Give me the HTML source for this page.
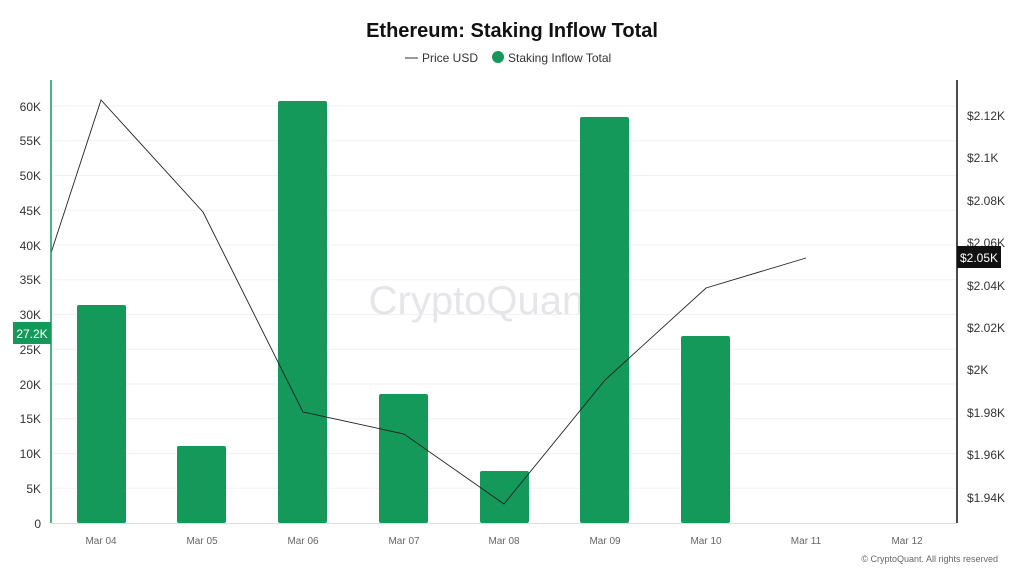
<!DOCTYPE html>
<html><head><meta charset="utf-8"><style>
body{margin:0;background:#fff;font-family:"Liberation Sans","DejaVu Sans",sans-serif;}
</style></head><body>
<svg width="1024" height="576" xmlns="http://www.w3.org/2000/svg" font-family="Liberation Sans, DejaVu Sans, sans-serif">
<rect width="1024" height="576" fill="#fff"/>
<text x="512" y="37" text-anchor="middle" font-size="20" font-weight="bold" fill="#111">Ethereum: Staking Inflow Total</text>
<line x1="405" y1="58" x2="418" y2="58" stroke="#333" stroke-width="1"/>
<text x="422" y="62" font-size="12" fill="#333">Price USD</text>
<circle cx="498" cy="57" r="6" fill="#14995a"/>
<text x="508" y="62" font-size="12" fill="#333">Staking Inflow Total</text>
<g stroke="#f2f2f2" stroke-width="1">
<line x1="51" x2="957" y1="488.2" y2="488.2"/><line x1="51" x2="957" y1="453.5" y2="453.5"/>
<line x1="51" x2="957" y1="418.7" y2="418.7"/><line x1="51" x2="957" y1="384" y2="384"/>
<line x1="51" x2="957" y1="349.2" y2="349.2"/><line x1="51" x2="957" y1="314.5" y2="314.5"/>
<line x1="51" x2="957" y1="279.7" y2="279.7"/><line x1="51" x2="957" y1="245" y2="245"/>
<line x1="51" x2="957" y1="210.2" y2="210.2"/><line x1="51" x2="957" y1="175.5" y2="175.5"/>
<line x1="51" x2="957" y1="140.7" y2="140.7"/><line x1="51" x2="957" y1="106" y2="106"/>
</g>
<line x1="51" x2="957" y1="523.5" y2="523.5" stroke="#ddd"/>
<text x="482" y="314" text-anchor="middle" font-size="40" fill="#e6e6ea">CryptoQuant</text>
<g fill="#14995a">
<rect x="77" y="305" width="49" height="218" rx="2"/>
<rect x="177" y="446" width="49" height="77" rx="2"/>
<rect x="278" y="101" width="49" height="422" rx="2"/>
<rect x="379" y="394" width="49" height="129" rx="2"/>
<rect x="480" y="471" width="49" height="52" rx="2"/>
<rect x="580" y="117" width="49" height="406" rx="2"/>
<rect x="681" y="336" width="49" height="187" rx="2"/>
</g>
<polyline fill="none" stroke="#222" stroke-width="0.9" points="51,253 101,100 203,212 303,412 404,434 504,504 605,380 706,288 806,258"/>
<line x1="51" y1="80" x2="51" y2="523" stroke="#14995a" stroke-width="1.5"/>
<line x1="957" y1="80" x2="957" y2="523" stroke="#111" stroke-width="1.5"/>
<g font-size="12" fill="#333" text-anchor="end">
<text x="41" y="528">0</text><text x="41" y="493">5K</text><text x="41" y="458">10K</text>
<text x="41" y="423">15K</text><text x="41" y="389">20K</text><text x="41" y="354">25K</text>
<text x="41" y="319">30K</text><text x="41" y="284">35K</text><text x="41" y="250">40K</text>
<text x="41" y="215">45K</text><text x="41" y="180">50K</text><text x="41" y="145">55K</text>
<text x="41" y="111">60K</text>
</g>
<rect x="13" y="322" width="38" height="22" fill="#14995a"/>
<text x="32" y="338" text-anchor="middle" font-size="12" fill="#fff">27.2K</text>
<g font-size="12" fill="#333">
<text x="967" y="120">$2.12K</text><text x="967" y="162">$2.1K</text><text x="967" y="205">$2.08K</text>
<text x="967" y="247">$2.06K</text><text x="967" y="290">$2.04K</text><text x="967" y="332">$2.02K</text>
<text x="967" y="374">$2K</text><text x="967" y="417">$1.98K</text><text x="967" y="459">$1.96K</text>
<text x="967" y="502">$1.94K</text>
</g>
<rect x="957" y="246" width="44" height="22" fill="#111"/>
<text x="979" y="262" text-anchor="middle" font-size="12" fill="#fff">$2.05K</text>
<g font-size="10" fill="#666" text-anchor="middle">
<text x="101" y="544">Mar 04</text><text x="202" y="544">Mar 05</text><text x="303" y="544">Mar 06</text>
<text x="404" y="544">Mar 07</text><text x="504" y="544">Mar 08</text><text x="605" y="544">Mar 09</text>
<text x="706" y="544">Mar 10</text><text x="806" y="544">Mar 11</text><text x="907" y="544">Mar 12</text>
</g>
<text x="998" y="562" text-anchor="end" font-size="9" fill="#666">© CryptoQuant. All rights reserved</text>
</svg>
</body></html>
